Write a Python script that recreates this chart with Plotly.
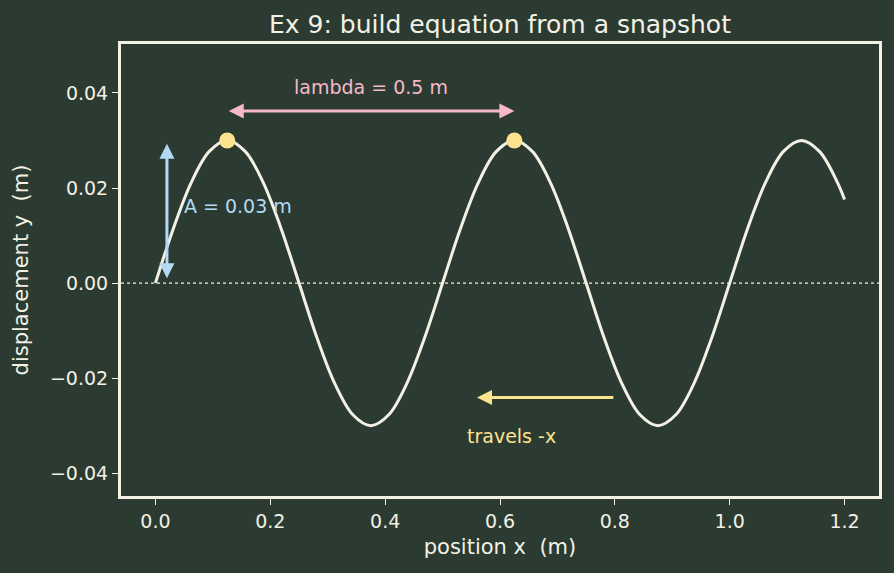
import plotly.graph_objects as go

# snapshot of the wave (x in m, y in m)
x_pos = [0.0, 0.03125, 0.0625, 0.09375, 0.125, 0.15625, 0.1875, 0.21875,
         0.25, 0.28125, 0.3125, 0.34375, 0.375, 0.40625, 0.4375, 0.46875,
         0.5, 0.53125, 0.5625, 0.59375, 0.625, 0.65625, 0.6875, 0.71875,
         0.75, 0.78125, 0.8125, 0.84375, 0.875, 0.90625, 0.9375, 0.96875,
         1.0, 1.03125, 1.0625, 1.09375, 1.125, 1.15625, 1.1875, 1.2]
y_disp = [0.0, 0.0115, 0.0212, 0.0277, 0.03, 0.0277, 0.0212, 0.0115,
          0.0, -0.0115, -0.0212, -0.0277, -0.03, -0.0277, -0.0212, -0.0115,
          0.0, 0.0115, 0.0212, 0.0277, 0.03, 0.0277, 0.0212, 0.0115,
          0.0, -0.0115, -0.0212, -0.0277, -0.03, -0.0277, -0.0212, -0.0115,
          0.0, 0.0115, 0.0212, 0.0277, 0.03, 0.0277, 0.0212, 0.0176]
peak_x = [0.125, 0.625]
peak_y = [0.03, 0.03]

BG = "#2b3b32"
FG = "#f3f1e4"
PINK = "#f7b8c9"
BLUE = "#b3d9f5"
YELLOW = "#fde38e"
FONT = "DejaVu Sans"

fig = go.Figure()
fig.add_trace(go.Scatter(x=[-0.06, 1.26], y=[0, 0], mode="lines",
                         line=dict(color=FG, width=1.2, dash="dot"), hoverinfo="skip"))
fig.add_trace(go.Scatter(x=x_pos, y=y_disp, mode="lines",
                         line=dict(color=FG, width=3, shape="spline", smoothing=1.0)))
fig.add_trace(go.Scatter(x=peak_x, y=peak_y, mode="markers",
                         marker=dict(color=YELLOW, size=16, line=dict(width=0))))

def arrow(x0, y0, x1, y1, color, both=False):
    fig.add_annotation(x=x1, y=y1, ax=x0, ay=y0, xref="x", yref="y", axref="x", ayref="y",
                       text="", showarrow=True, arrowhead=2, arrowsize=1.0, arrowwidth=3,
                       arrowcolor=color, arrowside="end+start" if both else "end",
                       startarrowhead=2, startarrowsize=1.0)

arrow(0.125, 0.0362, 0.625, 0.0362, PINK, both=True)
arrow(0.02, 0.0007, 0.02, 0.0293, BLUE, both=True)
arrow(0.8, -0.0241, 0.56, -0.0241, YELLOW)

fig.add_annotation(x=0.375, y=0.0413, text="lambda = 0.5 m", showarrow=False,
                   font=dict(color=PINK, size=19, family=FONT))
fig.add_annotation(x=0.047, y=0.0162, text="A = 0.03 m", showarrow=False, xanchor="left",
                   font=dict(color=BLUE, size=19, family=FONT))
fig.add_annotation(x=0.62, y=-0.0322, text="travels -x", showarrow=False,
                   font=dict(color=YELLOW, size=19, family=FONT))

axis_common = dict(showgrid=False, zeroline=False, showline=True, mirror=True,
                   linecolor=FG, linewidth=3, ticks="outside", ticklen=6, tickwidth=1.2,
                   tickcolor=FG, tickfont=dict(color=FG, size=19, family=FONT))

fig.update_layout(
    width=894, height=573,
    paper_bgcolor=BG, plot_bgcolor=BG,
    margin=dict(l=121, r=15, t=44, b=77),
    showlegend=False,
    font=dict(family=FONT, color=FG),
    title=dict(text="Ex 9: build equation from a snapshot", x=0.5, xref="paper", xanchor="center",
               y=0.957, yanchor="middle", font=dict(size=25, color=FG, family=FONT)),
    xaxis=dict(range=[-0.06, 1.26], tickvals=[0, 0.2, 0.4, 0.6, 0.8, 1.0, 1.2],
               tickformat=".1f",
               title=dict(text="position x\u00a0\u00a0(m)", font=dict(size=21, color=FG, family=FONT), standoff=9),
               **axis_common),
    yaxis=dict(range=[-0.0448, 0.0503], tickvals=[-0.04, -0.02, 0, 0.02, 0.04],
               tickformat=".2f",
               title=dict(text="displacement y\u00a0\u00a0(m)", font=dict(size=21, color=FG, family=FONT), standoff=16),
               **axis_common),
)

fig.write_html("out.html")
